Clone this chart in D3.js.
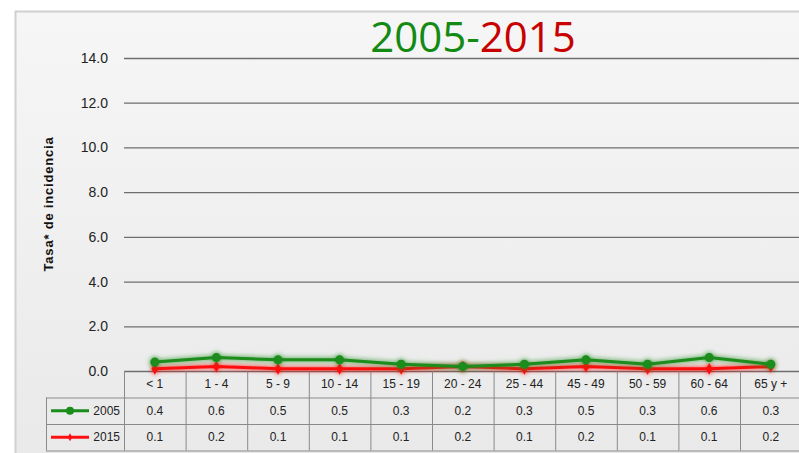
<!DOCTYPE html>
<html>
<head>
<meta charset="utf-8">
<script src="https://cdn.jsdelivr.net/npm/d3@7"></script>
<style>
  body { margin: 0; background: #fff; }
  svg { display: block; }
</style>
</head>
<body>
<div></div>
<script>
var categories = ["< 1", "1 - 4", "5 - 9", "10 - 14", "15 - 19", "20 - 24", "25 - 44", "45 - 49", "50 - 59", "60 - 64", "65 y +"];
var values2005 = [0.4, 0.6, 0.5, 0.5, 0.3, 0.2, 0.3, 0.5, 0.3, 0.6, 0.3];
var values2015 = [0.1, 0.2, 0.1, 0.1, 0.1, 0.2, 0.1, 0.2, 0.1, 0.1, 0.2];
var yTicks = [0, 2, 4, 6, 8, 10, 12, 14];

var width = 799;
var height = 453;
var margin = { top: 58, left: 124, bottom: 82 };

var series = [
  { name: "2005", values: values2005, color: "#1a8c1a" },
  { name: "2015", values: values2015, color: "#ff1010" }
];

const svg = d3.select("div")
  .append("svg")
  .attr("width", width)
  .attr("height", height);

// background gradient of the chart area
var defs = svg.append("defs");
var grad = defs.append("linearGradient").attr("id", "bg").attr("x1", 0).attr("y1", 0).attr("x2", 0).attr("y2", 1);
grad.append("stop").attr("offset", "0%").attr("stop-color", "#f6f6f6");
grad.append("stop").attr("offset", "100%").attr("stop-color", "#e9e9e9");

var glow = defs.append("filter").attr("id", "glow").attr("x", "-10%").attr("y", "-50%").attr("width", "120%").attr("height", "200%");
glow.append("feGaussianBlur").attr("in", "SourceGraphic").attr("stdDeviation", 2.5).attr("result", "b");
glow.append("feMerge").call((m) => {
  m.append("feMergeNode").attr("in", "b");
  m.append("feMergeNode").attr("in", "SourceGraphic");
});

svg.append("rect")
  .attr("x", 15.5).attr("y", 11.5)
  .attr("width", width).attr("height", height)
  .attr("fill", "url(#bg)")
  .attr("stroke", "#d0d0d0")
  .attr("stroke-width", 2);

var colW = 61.6;
var x = d3.scaleBand()
  .domain(categories)
  .range([margin.left, margin.left + colW * categories.length]);

var y = d3.scaleLinear()
  .domain([0, 14])
  .range([371, margin.top]);

// grid lines
svg.append("g")
  .selectAll("line")
  .data(yTicks)
  .join("line")
  .attr("x1", margin.left)
  .attr("x2", width)
  .attr("y1", (d) => y(d) + 0.5)
  .attr("y2", (d) => y(d) + 0.5)
  .attr("stroke", "#6e6e6e")
  .attr("stroke-width", 1.3);

// y tick labels
svg.append("g")
  .selectAll("text")
  .data(yTicks)
  .join("text")
  .attr("x", 108)
  .attr("y", (d) => y(d) + 5)
  .attr("text-anchor", "end")
  .attr("font-family", "Liberation Sans Narrow, Liberation Sans, sans-serif")
  .attr("font-size", 14)
  .attr("fill", "#222")
  .text((d) => d.toFixed(1));

// y axis title
svg.append("text")
  .attr("transform", "translate(53,204) rotate(-90)")
  .attr("text-anchor", "middle")
  .attr("font-family", "Liberation Sans, sans-serif")
  .attr("font-weight", "bold")
  .attr("font-size", 13)
  .attr("letter-spacing", 0.8)
  .attr("fill", "#111")
  .text("Tasa* de incidencia");

// title
var title = svg.append("text")
  .attr("x", 473)
  .attr("y", 52)
  .attr("text-anchor", "middle")
  .attr("font-family", "Open Sans, Noto Sans, sans-serif")
  .attr("font-size", 42);
title.append("tspan").attr("fill", "#138a13").text("2005-");
title.append("tspan").attr("fill", "#c80000").text("2015");

// data table
var rowH = 26.5;
var tableTop = 371;
var table = svg.append("g").attr("font-family", "Liberation Sans Narrow, Liberation Sans, sans-serif").attr("font-size", 12).attr("fill", "#222");
var tstroke = "#8a8a8a";

// vertical lines
table.append("g")
  .selectAll("line")
  .data(categories.concat(["end"]))
  .join("line")
  .attr("x1", (d, i) => margin.left + colW * i + 0.5)
  .attr("x2", (d, i) => margin.left + colW * i + 0.5)
  .attr("y1", tableTop)
  .attr("y2", tableTop + rowH * 3)
  .attr("stroke", tstroke);
table.append("line")
  .attr("x1", 46.5).attr("x2", 46.5)
  .attr("y1", tableTop + rowH).attr("y2", tableTop + rowH * 3)
  .attr("stroke", tstroke);
// horizontal lines
[1, 2, 3].forEach((r) => {
  table.append("line")
    .attr("x1", 46).attr("x2", width)
    .attr("y1", tableTop + rowH * r + 0.5).attr("y2", tableTop + rowH * r + 0.5)
    .attr("stroke", tstroke);
});

table.append("g")
  .selectAll("text")
  .data(categories)
  .join("text")
  .attr("x", (d) => x(d) + x.bandwidth() / 2)
  .attr("y", tableTop + rowH / 2 + 4)
  .attr("text-anchor", "middle")
  .text((d) => d);

series.forEach((s, r) => {
  var rowY = tableTop + rowH * (r + 1);
  table.append("g")
    .selectAll("text")
    .data(s.values)
    .join("text")
    .attr("x", (d, i) => x(categories[i]) + x.bandwidth() / 2)
    .attr("y", rowY + rowH / 2 + 4)
    .attr("text-anchor", "middle")
    .text((d) => d.toFixed(1));
  // legend key
  table.append("line")
    .attr("x1", 51).attr("x2", 89)
    .attr("y1", rowY + rowH / 2).attr("y2", rowY + rowH / 2)
    .attr("stroke", s.color).attr("stroke-width", 3);
  if (r === 0) {
    table.append("circle").attr("cx", 70).attr("cy", rowY + rowH / 2).attr("r", 4).attr("fill", s.color);
  } else {
    table.append("path").attr("transform", `translate(70,${rowY + rowH / 2})`)
      .attr("d", d3.symbol().type(d3.symbolDiamond).size(18)()).attr("fill", s.color);
  }
  table.append("text")
    .attr("x", 120).attr("y", rowY + rowH / 2 + 4)
    .attr("text-anchor", "end")
    .text(s.name);
});

// lines (2015 first, 2005 on top)
var line = d3.line()
  .x((d, i) => x(categories[i]) + x.bandwidth() / 2)
  .y((d) => y(d));

series.slice().reverse().forEach((s, k) => {
  var g = svg.append("g").attr("filter", "url(#glow)");
  g.append("path")
    .datum(s.values)
    .attr("fill", "none")
    .attr("stroke", s.color)
    .attr("stroke-width", 3)
    .attr("d", line);
  if (s.name === "2005") {
    g.selectAll("circle")
      .data(s.values)
      .join("circle")
      .attr("cx", (d, i) => x(categories[i]) + x.bandwidth() / 2)
      .attr("cy", (d) => y(d))
      .attr("r", 4.5)
      .attr("fill", s.color);
  } else {
    g.selectAll("path.m")
      .data(s.values)
      .join("path")
      .attr("class", "m")
      .attr("transform", (d, i) => `translate(${x(categories[i]) + x.bandwidth() / 2},${y(d)})`)
      .attr("d", d3.symbol().type(d3.symbolDiamond).size(40)())
      .attr("fill", s.color);
  }
});
</script>
</body>
</html>
